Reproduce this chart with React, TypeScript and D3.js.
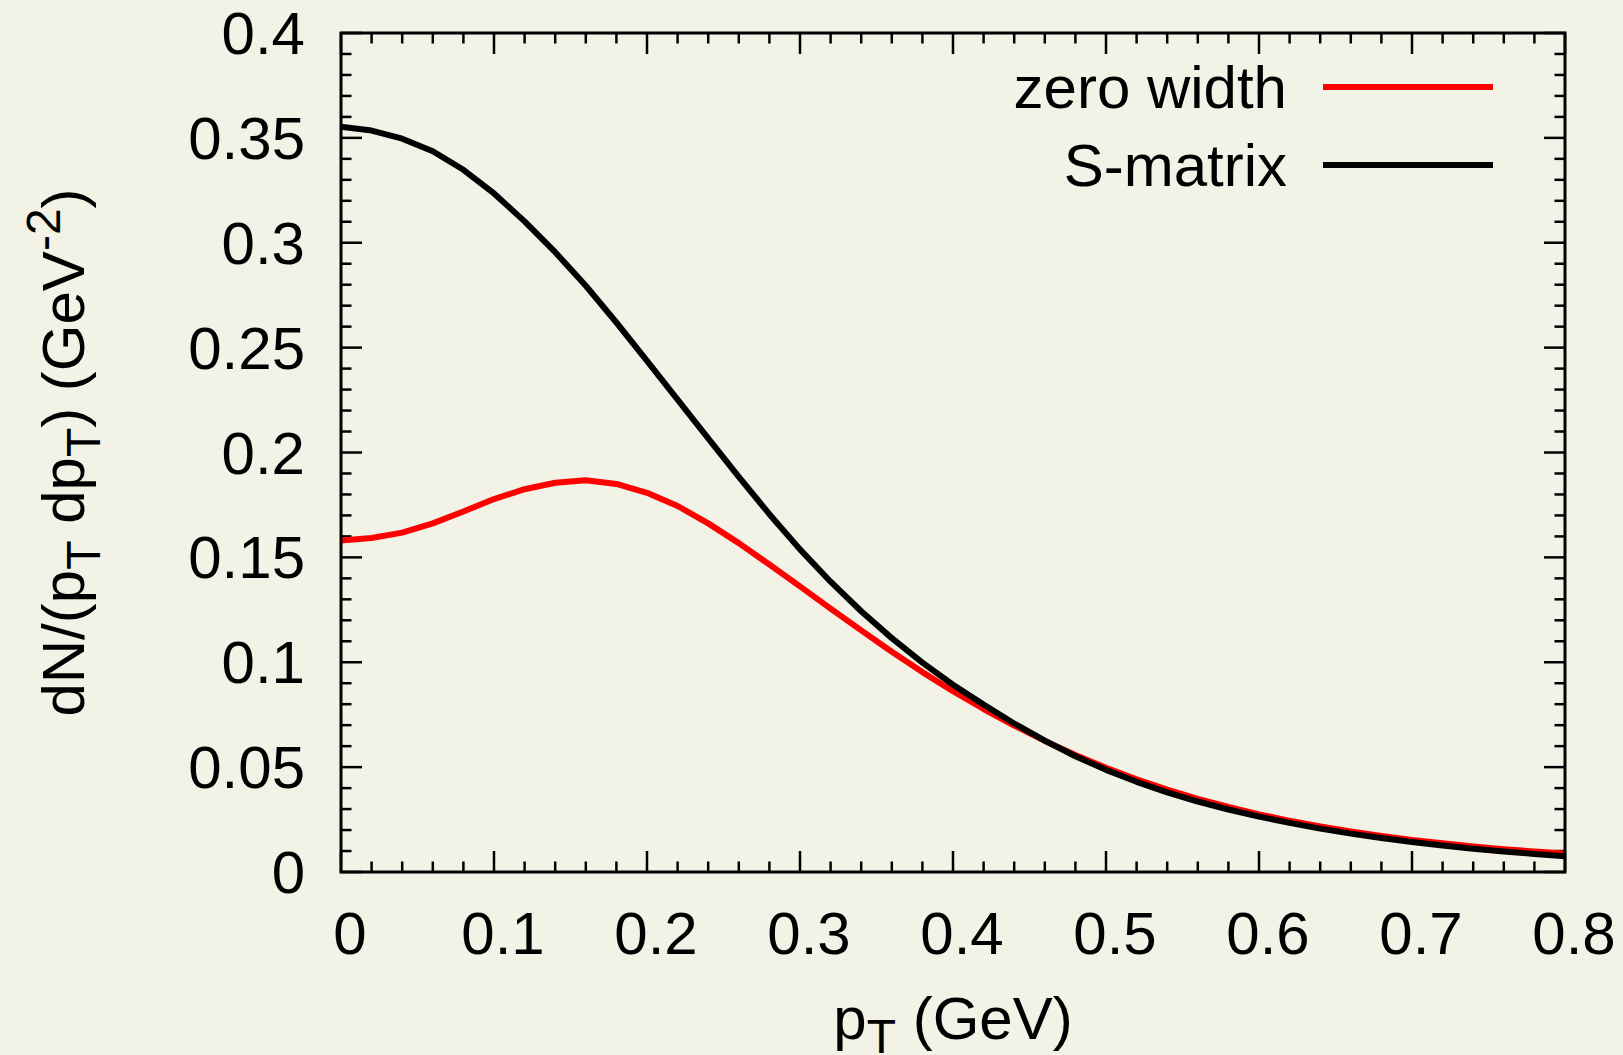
import React from "react";
import * as d3 from "d3";

const pT = [
  0.0, 0.02, 0.04, 0.06, 0.08, 0.1, 0.12, 0.14, 0.16, 0.18, 0.2, 0.22, 0.24, 0.26,
  0.28, 0.3, 0.32, 0.34, 0.36, 0.38, 0.4, 0.42, 0.44, 0.46, 0.48, 0.5, 0.52, 0.54,
  0.56, 0.58, 0.6, 0.62, 0.64, 0.66, 0.68, 0.7, 0.72, 0.74, 0.76, 0.78, 0.8,
];

const sMatrix = [
  0.3553, 0.3535, 0.3496, 0.3436, 0.3348, 0.3235, 0.3102, 0.2955, 0.2795, 0.262,
  0.2437, 0.2252, 0.2067, 0.1884, 0.1706, 0.1538, 0.1384, 0.1243, 0.1115, 0.0998,
  0.0893, 0.0798, 0.0708, 0.0626, 0.0552, 0.0487, 0.043, 0.038, 0.0336, 0.0298,
  0.0264, 0.0234, 0.0207, 0.0183, 0.0162, 0.0143, 0.0126, 0.0111, 0.0098, 0.0086,
  0.0075,
];

const zeroWidth = [
  0.158, 0.1592, 0.1618, 0.1662, 0.1719, 0.1778, 0.1825, 0.1856, 0.1868, 0.185,
  0.1808, 0.1745, 0.1662, 0.1568, 0.1466, 0.1362, 0.1256, 0.1152, 0.105, 0.0953,
  0.0862, 0.0777, 0.0698, 0.0625, 0.0558, 0.0497, 0.0442, 0.0393, 0.0349, 0.031,
  0.0275, 0.0244, 0.0217, 0.0193, 0.0172, 0.0153, 0.0137, 0.0122, 0.0109, 0.0098,
  0.0088,
];

const xTickLabels = ["0", "0.1", "0.2", "0.3", "0.4", "0.5", "0.6", "0.7", "0.8"];
const yTickLabels = ["0", "0.05", "0.1", "0.15", "0.2", "0.25", "0.3", "0.35", "0.4"];

const seriesNames = ["zero width", "S-matrix"];
const seriesColors = ["#ff0000", "#000000"];

const W = 1623;
const H = 1055;
const L = 341;
const R = 1565;
const T = 33;
const B = 872;
const FONT = "'Liberation Sans', Arial, Helvetica, sans-serif";
const FS = 60;

export default function App() {
  const x = d3.scaleLinear().domain([0, 0.8]).range([L, R]);
  const y = d3.scaleLinear().domain([0, 0.4]).range([B, T]);

  const line = d3
    .line<[number, number]>()
    .x((d) => x(d[0]))
    .y((d) => y(d[1]));

  const blackPts = pT.map((p, i) => [p, sMatrix[i]] as [number, number]);
  const redPts = pT.map((p, i) => [p, zeroWidth[i]] as [number, number]);

  const xMajor = xTickLabels.map((t) => +t);
  const yMajor = yTickLabels.map((t) => +t);
  const xMinor = d3.range(0, 41).map((i) => i * 0.02).filter((v, i) => i % 5 !== 0);
  const yMinor = d3.range(0, 41).map((i) => i * 0.01).filter((v, i) => i % 5 !== 0);

  const majLen = 21;
  const minLen = 10.5;
  const tickW = 2.5;

  const ticks: React.ReactNode[] = [];
  xMajor.forEach((v, i) => {
    ticks.push(<line key={"xb" + i} x1={x(v)} x2={x(v)} y1={B} y2={B - majLen} />);
    ticks.push(<line key={"xt" + i} x1={x(v)} x2={x(v)} y1={T} y2={T + majLen} />);
  });
  xMinor.forEach((v, i) => {
    ticks.push(<line key={"xmb" + i} x1={x(v)} x2={x(v)} y1={B} y2={B - minLen} />);
    ticks.push(<line key={"xmt" + i} x1={x(v)} x2={x(v)} y1={T} y2={T + minLen} />);
  });
  yMajor.forEach((v, i) => {
    ticks.push(<line key={"yl" + i} x1={L} x2={L + majLen} y1={y(v)} y2={y(v)} />);
    ticks.push(<line key={"yr" + i} x1={R} x2={R - majLen} y1={y(v)} y2={y(v)} />);
  });
  yMinor.forEach((v, i) => {
    ticks.push(<line key={"yml" + i} x1={L} x2={L + minLen} y1={y(v)} y2={y(v)} />);
    ticks.push(<line key={"ymr" + i} x1={R} x2={R - minLen} y1={y(v)} y2={y(v)} />);
  });

  const legendY = [87, 165];

  return (
    <div style={{ position: "absolute", left: 0, top: 0 }}>
      <svg width={W} height={H} style={{ display: "block" }} fontFamily={FONT}>
        <rect x={0} y={0} width={W} height={H} fill="#f2f2e6" />
        <g stroke="#000" strokeWidth={tickW}>{ticks}</g>

        <path d={line(redPts) || ""} fill="none" stroke={seriesColors[0]} strokeWidth={6} strokeLinejoin="round" />
        <path d={line(blackPts) || ""} fill="none" stroke={seriesColors[1]} strokeWidth={6} strokeLinejoin="round" />

        <rect x={L} y={T} width={R - L} height={B - T} fill="none" stroke="#000" strokeWidth={3} />

        {xTickLabels.map((t, i) => (
          <text key={"xl" + i} x={x(+t) + 9} y={954} fontSize={FS} textAnchor="middle" fill="#000">
            {t}
          </text>
        ))}
        {yTickLabels.map((t, i) => (
          <text key={"yl" + i} x={305} y={y(+t) + 21} fontSize={FS} textAnchor="end" fill="#000">
            {t}
          </text>
        ))}

        {seriesNames.map((n, i) => (
          <g key={"lg" + i}>
            <text x={1287} y={legendY[i] + 21} fontSize={FS} textAnchor="end" fill="#000">
              {n}
            </text>
            <line x1={1323} x2={1493} y1={legendY[i]} y2={legendY[i]} stroke={seriesColors[i]} strokeWidth={6} />
          </g>
        ))}

        <text x={(L + R) / 2} y={1039} fontSize={FS} textAnchor="middle" fill="#000">
          p<tspan fontSize={FS * 0.8} dy={14}>T</tspan>
          <tspan dy={-14}> (GeV)</tspan>
        </text>

        <text
          transform={`translate(84, ${(T + B) / 2}) rotate(-90)`}
          fontSize={FS}
          textAnchor="middle"
          fill="#000"
        >
          dN/(p<tspan fontSize={FS * 0.8} dy={16}>T</tspan>
          <tspan dy={-16}> dp</tspan>
          <tspan fontSize={FS * 0.8} dy={16}>T</tspan>
          <tspan dy={-16}>) (GeV</tspan>
          <tspan fontSize={FS * 0.8} dy={-24}>-2</tspan>
          <tspan dy={24}>)</tspan>
        </text>
      </svg>
    </div>
  );
}
